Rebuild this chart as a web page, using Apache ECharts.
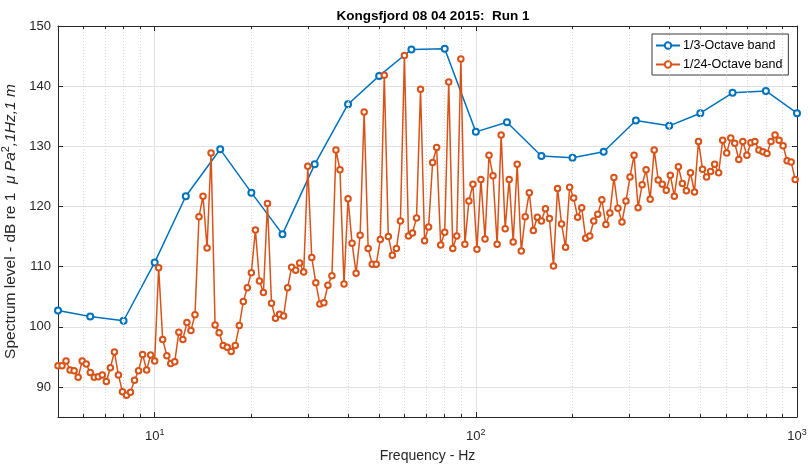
<!DOCTYPE html>
<html>
<head>
<meta charset="utf-8">
<script src="https://cdn.jsdelivr.net/npm/echarts@6/dist/echarts.min.js"></script>
<style>
  html, body { margin: 0; padding: 0; background: #ffffff; }
  #chart { width: 810px; height: 471px; }
</style>
</head>
<body>
<div id="chart"></div>
<script>
// 1/24-octave band centre frequencies (Hz), base-two series starting at 5 Hz
const bandCentresHz = [
  5.000, 5.147, 5.297, 5.453, 5.612, 5.777, 5.946, 6.120, 6.300, 6.484, 6.674, 6.870,
  7.071, 7.278, 7.492, 7.711, 7.937, 8.170, 8.409, 8.655, 8.909, 9.170, 9.439, 9.715,
  10.00, 10.29, 10.59, 10.91, 11.22, 11.55, 11.89, 12.24, 12.60, 12.97, 13.35, 13.74,
  14.14, 14.56, 14.98, 15.42, 15.87, 16.34, 16.82, 17.31, 17.82, 18.34, 18.88, 19.43,
  20.00, 20.59, 21.19, 21.81, 22.45, 23.11, 23.78, 24.48, 25.20, 25.94, 26.70, 27.48,
  28.28, 29.11, 29.97, 30.84, 31.75, 32.68, 33.64, 34.62, 35.64, 36.68, 37.75, 38.86,
  40.00, 41.17, 42.38, 43.62, 44.90, 46.21, 47.57, 48.96, 50.40, 51.87, 53.39, 54.96,
  56.57, 58.23, 59.93, 61.69, 63.50, 65.36, 67.27, 69.24, 71.27, 73.36, 75.51, 77.72,
  80.00, 82.34, 84.76, 87.24, 89.80, 92.43, 95.14, 97.92, 100.8, 103.7, 106.8, 109.9,
  113.1, 116.5, 119.9, 123.4, 127.0, 130.7, 134.5, 138.5, 142.5, 146.7, 151.0, 155.4,
  160.0, 164.7, 169.5, 174.5, 179.6, 184.9, 190.3, 195.9, 201.6, 207.5, 213.6, 219.8,
  226.3, 232.9, 239.7, 246.8, 254.0, 261.4, 269.1, 277.0, 285.1, 293.4, 302.0, 310.9,
  320.0, 329.4, 339.0, 349.0, 359.2, 369.7, 380.6, 391.7, 403.2, 415.0, 427.2, 439.7,
  452.5, 465.9, 479.5, 493.5, 508.0, 522.9, 538.2, 554.0, 570.2, 586.9, 604.2, 621.8,
  640.0, 658.8, 678.1, 698.0, 718.4, 739.5, 761.1, 783.4, 806.4, 830.0, 854.3, 879.4,
  905.2, 931.6, 959.0, 987.0
];

// Spectrum level in each 1/24-octave band (dB re 1 uPa^2/Hz at 1 m)
const bandLevels24 = [
  93.5, 93.5, 94.3, 92.8, 92.7, 91.6, 94.3, 93.8, 92.4, 91.6, 91.7, 92.0,
  90.9, 93.2, 95.8, 92.0, 89.2, 88.6, 89.1, 91.1, 92.7, 95.4, 92.8, 95.3,
  94.3, 109.8, 97.9, 95.2, 93.9, 94.2, 99.1, 97.9, 100.7, 99.4, 102.0, 118.3,
  121.7, 113.1, 128.9, 100.3, 99.0, 96.9, 96.6, 95.9, 96.9, 100.2, 104.2, 106.5,
  109.0, 116.1, 107.6, 105.7, 120.5, 103.9, 101.4, 102.1, 101.8, 106.5, 109.9, 109.4,
  110.6, 109.1, 126.7, 111.5, 107.3, 103.8, 104.0, 106.9, 108.5, 129.4, 126.1, 107.1,
  121.3, 113.9, 108.9, 115.2, 135.7, 113.0, 110.4, 110.4, 114.5, 141.8, 115.0, 111.9,
  113.0, 117.6, 145.1, 115.1, 115.6, 118.1, 139.5, 114.3, 116.6, 127.3, 129.8, 113.6,
  115.7, 140.7, 113.0, 115.1, 144.5, 113.7, 120.9, 123.7, 112.9, 124.5, 114.6, 128.5,
  125.1, 113.7, 131.9, 116.3, 124.5, 114.1, 127.0, 112.6, 118.3, 122.3, 116.0, 118.2,
  117.6, 119.6, 118.0, 110.1, 123.0, 117.1, 113.2, 123.2, 121.4, 118.2, 119.8, 114.7,
  115.1, 117.6, 118.7, 121.1, 117.0, 118.9, 124.8, 119.7, 117.4, 120.9, 124.9, 128.5,
  119.8, 123.6, 126.1, 121.2, 129.4, 124.4, 123.7, 122.7, 125.2, 121.7, 126.6, 123.8,
  122.6, 125.6, 122.4, 130.8, 126.2, 124.9, 125.8, 127.0, 125.6, 131.0, 128.9, 131.4,
  130.5, 127.8, 130.8, 128.5, 130.6, 130.8, 129.4, 129.1, 128.8, 130.8, 131.9, 131.0,
  130.1, 127.6, 127.4, 124.5
];

// Preferred 1/3-octave band centres (Hz) and their levels
const thirdOctaveHz = [5, 6.3, 8, 10, 12.5, 16, 20, 25, 31.5, 40, 50, 63, 80, 100,
  125, 160, 200, 250, 315, 400, 500, 630, 800, 1000];
const thirdOctaveLevels = [102.7, 101.7, 101.0, 110.7, 121.7, 129.5, 122.3, 115.4,
  127.0, 137.0, 141.7, 146.1, 146.2, 132.4, 134.0, 128.4, 128.1, 129.1, 134.3, 133.4,
  135.5, 138.9, 139.2, 135.5];

// Axis limits and log-axis minor grid positions
const freqRange = [5, 1000];
const levelRange = [85, 150];
const minorGridHz = [6, 7, 8, 9, 20, 30, 40, 50, 60, 70, 80, 90,
  200, 300, 400, 500, 600, 700, 800, 900];

const FONT = "'Liberation Sans', Arial, Helvetica, sans-serif";
const AX = '#262626';
const BLUE = '#0072BD';
const ORANGE = '#D95319';

const pairs = (xs, ys) => xs.map((x, i) => [x, ys[i]]);

// Dotted minor grid and short minor ticks on bottom and top edges
const minorGridLines = minorGridHz.map(f => ({ xAxis: f }));
const minorTickLen = 0.5;
const minorTicks = [];
minorGridHz.forEach(f => {
  minorTicks.push([{ coord: [f, levelRange[0]] }, { coord: [f, levelRange[0] + minorTickLen] }]);
  minorTicks.push([{ coord: [f, levelRange[1] - minorTickLen] }, { coord: [f, levelRange[1]] }]);
});

const chart = echarts.init(document.getElementById('chart'), null, { renderer: 'canvas' });

const logAxisBase = {
  type: 'log',
  logBase: 10,
  min: freqRange[0],
  max: freqRange[1],
  axisLine: { show: true, lineStyle: { color: AX, width: 1 } },
  axisTick: { show: true, inside: true, length: 5, lineStyle: { color: AX } },
  minorTick: { show: false },
  splitLine: { show: false }
};

const valueAxisBase = {
  type: 'value',
  min: levelRange[0],
  max: levelRange[1],
  minInterval: 10,
  maxInterval: 10,
  splitNumber: 7,
  axisLine: { show: true, lineStyle: { color: AX, width: 1 } },
  axisTick: { show: true, inside: true, length: 5, lineStyle: { color: AX } }
};

chart.setOption({
  animation: false,
  backgroundColor: '#ffffff',
  textStyle: { fontFamily: FONT },
  title: {
    text: 'Kongsfjord 08 04 2015:  Run 1',
    left: 428,
    top: 4,
    textAlign: 'center',
    textStyle: { fontFamily: FONT, fontSize: 13.5, fontWeight: 'bold', color: '#000000' }
  },
  grid: { left: 58, right: 13, top: 26, bottom: 54, containLabel: false, outerBoundsMode: 'none' },
  legend: {
    orient: 'vertical',
    left: 652,
    top: 34,
    itemWidth: 24,
    itemHeight: 8,
    itemGap: 6,
    padding: [5, 6, 4, 3],
    borderColor: '#3a3a3a',
    borderWidth: 1,
    backgroundColor: '#ffffff',
    textStyle: { fontFamily: FONT, fontSize: 12.5, color: '#000000', padding: [0, 0, 0, -2] },
    data: ['1/3-Octave band', '1/24-Octave band']
  },
  xAxis: [
    Object.assign({}, logAxisBase, {
      position: 'bottom',
      name: 'Frequency - Hz',
      nameLocation: 'middle',
      nameGap: 32,
      nameTextStyle: { fontFamily: FONT, fontSize: 14, color: AX },
      axisLabel: {
        show: true,
        margin: 11,
        showMinLabel: false,
        color: AX,
        fontSize: 13,
        fontFamily: FONT,
        formatter: v => '10{sup|' + Math.round(Math.log10(v)) + '}',
        rich: { sup: { fontSize: 9, color: AX, fontFamily: FONT, padding: [0, 0, 8, 0] } }
      },
      splitLine: { show: true, lineStyle: { color: '#e2e2e2', width: 1 } }
    }),
    Object.assign({}, logAxisBase, {
      position: 'top',
      axisLabel: { show: false }
    })
  ],
  yAxis: [
    Object.assign({}, valueAxisBase, {
      position: 'left',
      name: '{a|Spectrum level - dB re 1 }{i| \u03bc Pa}{s|2}{i|,1Hz,1 m}',
      nameLocation: 'middle',
      nameGap: 32,
      nameTextStyle: {
        fontFamily: FONT, fontSize: 15.5, color: AX,
        rich: {
          a: { fontFamily: FONT, fontSize: 15.5, color: AX },
          i: { fontFamily: FONT, fontSize: 15.5, color: AX, fontStyle: 'italic' },
          s: { fontFamily: FONT, fontSize: 11, color: AX, padding: [0, 0, 9, 0] }
        }
      },
      axisLabel: {
        show: true, margin: 7, color: AX, fontSize: 13, fontFamily: FONT,
        showMinLabel: false
      },
      splitLine: { show: true, lineStyle: { color: '#e2e2e2', width: 1 } }
    }),
    Object.assign({}, valueAxisBase, {
      position: 'right',
      axisLabel: { show: false },
      splitLine: { show: false }
    })
  ],
  series: [
    {
      // minor grid for the logarithmic frequency axis
      name: 'minor-grid',
      type: 'line',
      xAxisIndex: 0,
      yAxisIndex: 0,
      data: [],
      silent: true,
      z: 1,
      markLine: {
        silent: true,
        symbol: 'none',
        label: { show: false },
        animation: false,
        data: minorGridLines,
        lineStyle: { color: '#d4d4d4', width: 1, type: [1, 2] }
      }
    },
    {
      // minor ticks along the bottom and top frame edges
      name: 'minor-ticks',
      type: 'line',
      xAxisIndex: 0,
      yAxisIndex: 0,
      data: [],
      silent: true,
      z: 3,
      markLine: {
        silent: true,
        symbol: 'none',
        label: { show: false },
        animation: false,
        data: minorTicks,
        lineStyle: { color: AX, width: 1, type: 'solid' }
      }
    },
    {
      name: '1/3-Octave band',
      type: 'line',
      xAxisIndex: 0,
      yAxisIndex: 0,
      data: pairs(thirdOctaveHz, thirdOctaveLevels),
      symbol: 'emptyCircle',
      symbolSize: 6,
      showAllSymbol: true,
      z: 4,
      lineStyle: { color: BLUE, width: 1.5 },
      itemStyle: { color: BLUE, borderColor: BLUE, borderWidth: 1.4 }
    },
    {
      name: '1/24-Octave band',
      type: 'line',
      xAxisIndex: 0,
      yAxisIndex: 0,
      data: pairs(bandCentresHz, bandLevels24),
      symbol: 'emptyCircle',
      symbolSize: 5.5,
      showAllSymbol: true,
      z: 5,
      lineStyle: { color: ORANGE, width: 1.5 },
      itemStyle: { color: ORANGE, borderColor: ORANGE, borderWidth: 1.3 }
    }
  ]
});
</script>
</body>
</html>
